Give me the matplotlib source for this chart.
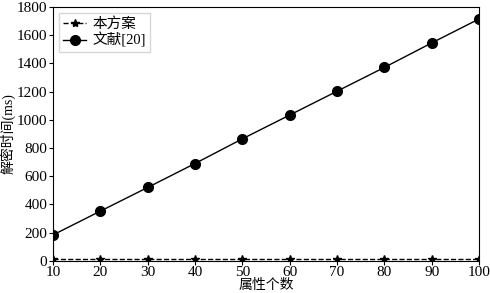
import matplotlib
matplotlib.use('Agg')
import matplotlib.pyplot as plt

plt.rcParams['font.family'] = ['Liberation Serif', 'Noto Sans CJK SC']
plt.rcParams['axes.unicode_minus'] = False

attrs = [10, 20, 30, 40, 50, 60, 70, 80, 90, 100]
ours = [15, 15, 15, 15, 15, 15, 15, 15, 15, 15]
ref20 = [183, 352, 520, 690, 865, 1034, 1203, 1372, 1546, 1716]

fig, ax = plt.subplots(figsize=(4.9, 2.93), dpi=100)
ax.plot(attrs, ours, '--', color='black', marker='*', markersize=6, linewidth=1, label='本方案')
ax.plot(attrs, ref20, '-', color='black', marker='o', markersize=7, linewidth=1, label='文献[20]')

ax.set_xlim(10, 100)
ax.set_ylim(0, 1800)
ax.set_xticks(attrs)
ax.set_yticks(range(0, 1801, 200))
ax.tick_params(labelsize=11, direction='out', length=3, pad=1)
ax.set_xlabel('属性个数', fontsize=10, labelpad=0)
ax.set_ylabel('解密时间(ms)', fontsize=10, labelpad=1)
ax.legend(loc='upper left', fontsize=10.5, frameon=True, fancybox=False,
          handlelength=1.6, borderpad=0.3, labelspacing=0.1, handletextpad=0.4,
          borderaxespad=0.4)

fig.subplots_adjust(left=0.108, right=0.978, top=0.976, bottom=0.11)
fig.savefig('out.png', dpi=100)
